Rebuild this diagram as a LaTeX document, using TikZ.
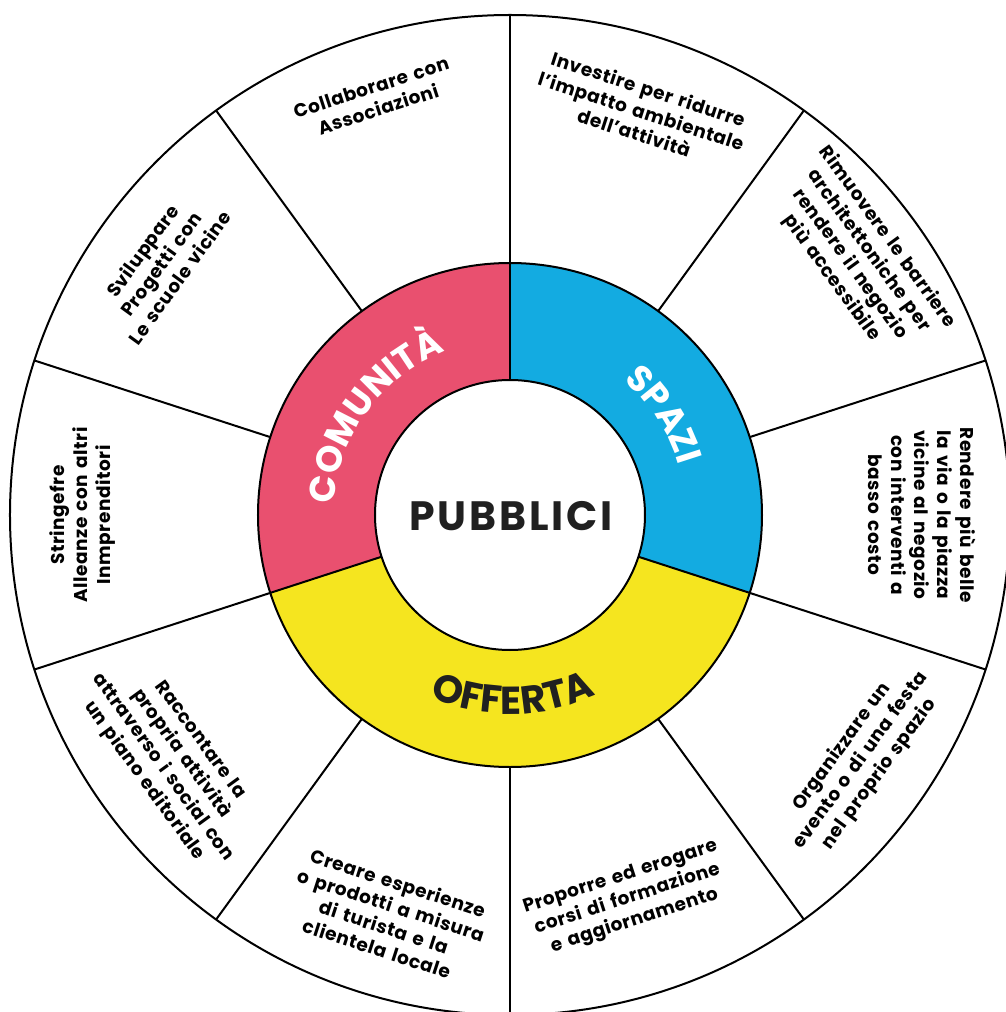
\documentclass[tikz,border=0pt]{standalone}
\usepackage{fontspec}
\setmainfont{Poppins}
\newfontfamily\segfont{Poppins}[LetterSpace=3]
\newfontfamily\hubfont{Poppins}[LetterSpace=7]
\newfontfamily\ringfont{Poppins}[LetterSpace=3]
\newfontfamily\offfont{Poppins}[LetterSpace=5]
\newcommand\segtype{\segfont\fontsize{18.5}{23}\selectfont\bfseries\spaceskip=0.34em\relax}
\usetikzlibrary{decorations.text}
\definecolor{comred}{HTML}{E9506F}
\definecolor{spablue}{HTML}{13ABE1}
\definecolor{offyel}{HTML}{F5E51F}
\definecolor{inkdark}{HTML}{202020}

\begin{document}
\begin{tikzpicture}[x=1pt,y=1pt,line width=2pt,
  seglabel/.style={font=\segtype,align=center,text=black,inner sep=0pt},
  ringtext/.style={decorate,decoration={text along path,text align=center,text={#1}}}
]
\useasboundingbox (-510,-497) rectangle (496,515);
\fill[white] (-510,-497) rectangle (496,515);
\clip (-510,-497) rectangle (496,515);

% outer wheel and spokes
\coordinate (c) at (0,0);
\draw (c) circle (500);
\foreach \a in {18,54,...,342} \draw (\a:252) -- (\a:500);

% coloured ring
\fill[comred] (90:252) arc (90:198:252) -- (198:135) arc (198:90:135) -- cycle;
\fill[spablue] (-18:252) arc (-18:90:252) -- (90:135) arc (90:-18:135) -- cycle;
\fill[offyel] (198:252) arc (198:342:252) -- (342:135) arc (342:198:135) -- cycle;
\draw (c) circle (252);
\foreach \a in {90,198,342} \draw (\a:135) -- (\a:252);
\draw[fill=white] (c) circle (135);

% centre
\node[font=\hubfont\fontsize{41}{41}\selectfont\bfseries,text=inkdark] (hub) at (1,-1) {PUBBLICI};

% ring captions
\path[ringtext={|\color{white}\ringfont\fontsize{36}{36}\selectfont\bfseries|COMUNITÀ}] (200:176) arc (200:88:176);
\path[ringtext={|\color{white}\ringfont\fontsize{36}{36}\selectfont\bfseries|SPAZI}] (87:176) arc (87:-21:176);
\path[ringtext={|\color{inkdark}\offfont\fontsize{39}{39}\selectfont\bfseries|OFFERTA}] (211:199) arc (211:331:199);

% sector texts
\node[seglabel,rotate=18] (t1) at (108:438) {Collaborare con\\Associazioni};
\node[seglabel,rotate=-18] (t2) at (72:425) {Investire per ridurre\\l’impatto ambientale\\dell’attività};
\node[seglabel,rotate=-54] (t3) at (36.4:434) {Rimuovere le barriere\\architettoniche per\\rendere il negozio\\più accessibile};
\node[seglabel,rotate=-90] (t4) at (0:412) {Rendere più belle\\la via o la piazza\\vicine al negozio\\con interventi a\\basso costo};
\node[seglabel,rotate=54] (t5) at (-35:428) {Organizzare un\\evento o di una festa\\nel proprio spazio};
\node[seglabel,rotate=18] (t6) at (-73:402) {Proporre ed erogare\\corsi di formazione\\e aggiornamento};
\node[seglabel,rotate=-18] (t7) at (253:419) {Creare esperienze\\o prodotti a misura\\di turista e la\\clientela locale};
\node[seglabel,rotate=-54] (t8) at (216:418) {Raccontare la\\propria attività\\attraverso i social con\\un piano editoriale};
\node[seglabel,rotate=90] (t9) at (180:427) {Stringefre\\Alleanze con altri\\Inmprenditori};
\node[seglabel,rotate=54] (t10) at (144.3:430) {Sviluppare\\Progetti con\\Le scuole vicine};
\end{tikzpicture}
\end{document}
